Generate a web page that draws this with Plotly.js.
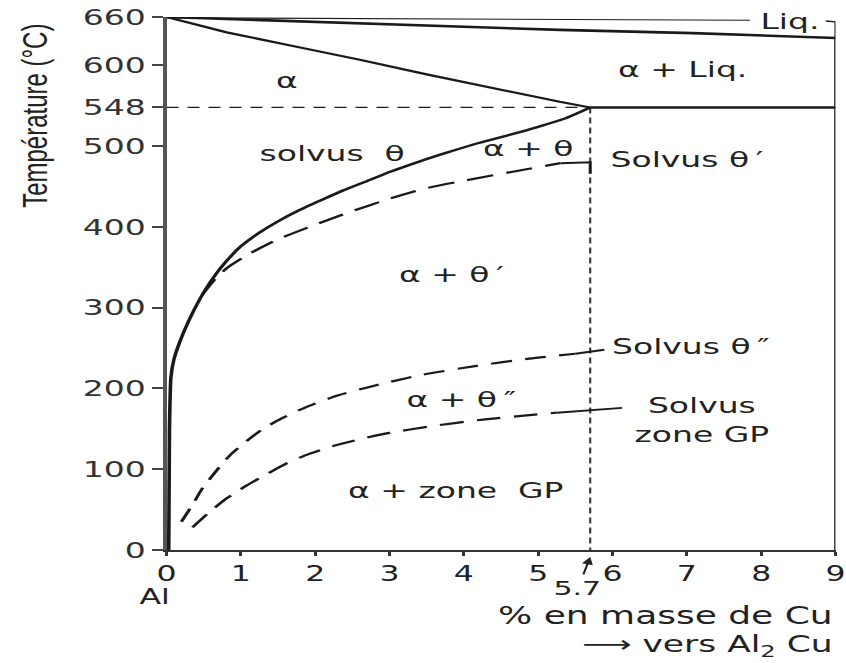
<!DOCTYPE html>
<html><head><meta charset="utf-8">
<script src="https://cdn.plot.ly/plotly-3.0.1.min.js"></script>
<style>
html,body{margin:0;padding:0;background:#fff;overflow:hidden;width:846px;height:663px}
#chart{width:564px;height:663px;transform:scaleX(1.5);transform-origin:0 0}
</style></head><body><div id="chart"></div>
<script>
// ---- axis ticks ----
const xTickVals = [0,1,2,3,4,5,6,7,8,9];
const xTickText = ['0','1','2','3','4','5','6','7','8','9'];
const yTickVals = [0,100,200,300,400,500,548,600,660];
const yTickText = ['0','100','200','300','400','500','548','600','660'];

// ---- phase boundaries (wt% Cu, °C) ----
const liquidusX = [0, 2.6, 5.29, 7.08, 9];
const liquidusT = [660, 652, 644, 640, 634];
const solidusX = [0, 0.81, 1.70, 2.60, 3.50, 4.39, 5.29, 5.7];
const solidusT = [660, 641, 624, 607, 589, 572, 555, 548];
const eutecticX = [5.7, 9];
const eutecticT = [548, 548];
const eutecticGuideX = [0, 5.7];
const eutecticGuideT = [548, 548];
const compoGuideX = [5.7, 5.7];
const compoGuideT = [548, 0];
const topLineX = [0, 7.85];
const topLineT = [659, 656];
const liqBracketX = [8.87, 9.0, 9.0];
const liqBracketT = [655, 654, 634];
const rightBorderX = [9, 9];
const rightBorderT = [0, 634];

const solvusThetaX = [0.03, 0.04, 0.06, 0.10, 0.18, 0.30, 0.45, 0.62, 0.80, 1.00, 1.25, 1.50, 1.79, 2.10, 2.37, 2.70, 3.00, 3.40, 3.77, 4.20, 4.65, 5.00, 5.35, 5.70];
const solvusThetaT = [0, 150, 214, 236, 258, 284, 311, 336, 357, 376, 393, 407, 421, 434, 445, 457, 468, 481, 492, 504, 515, 524, 534, 548];

const solvusThetaPX = [0.48, 0.65, 0.81, 1.12, 1.48, 1.92, 2.42, 3.00, 3.45, 4.04, 4.75, 5.30];
const solvusThetaPT = [316, 335, 349, 367, 384, 400, 417, 435, 447, 458, 470, 479];
const leaderThetaPX = [5.30, 5.70, 5.70];
const leaderThetaPT = [479, 480, 466];

const solvusThetaPPX = [0.20, 0.35, 0.48, 0.67, 0.85, 1.08, 1.30, 1.55, 1.88, 2.29, 2.69, 3.00, 3.44, 4.17, 4.88, 5.50];
const solvusThetaPPT = [35, 56, 76, 98, 117, 135, 150, 163, 177, 191, 201, 208, 217, 228, 237, 243];
const leaderThetaPPX = [5.50, 5.89];
const leaderThetaPPT = [243, 248];

const solvusGPX = [0.35, 0.58, 0.81, 1.08, 1.35, 1.61, 1.92, 2.29, 2.64, 3.00, 3.54, 4.21, 4.88, 5.25];
const solvusGPT = [28, 47, 64, 80, 94, 107, 119, 130, 138, 145, 153, 161, 167, 170];
const leaderGPX = [5.25, 6.13];
const leaderGPT = [170, 176];

// ---- labels ----
const labelText = ['α', 'α + Liq.', 'solvus\u00a0\u00a0θ', 'α + θ', 'α\u00a0+\u00a0θ\u2009′', 'α\u00a0+\u00a0θ\u2009″', 'Solvus<br>zone GP', 'α + zone\u00a0\u00a0GP', 'Liq.'];
const labelX =    [1.63, 6.94, 2.22, 4.86, 3.83, 3.96, 7.20, 3.90, 8.38];
const labelT =    [581, 595, 491, 497, 341, 186, 161, 74, 654];
const sideLabelText = ['Solvus θ\u2009′', 'Solvus θ\u2009″'];
const sideLabelX = [5.93, 5.96];
const sideLabelT = [484, 252];

const ink = '#1a1a1a';
function line(x, y, w, dash, color, shape) {
  return {x: x, y: y, type: 'scatter', mode: 'lines', hoverinfo: 'skip', showlegend: false,
          line: {color: color || ink, width: w, dash: dash || 'solid', shape: shape || 'linear', smoothing: 0.6}};
}

const traces = [
  line(rightBorderX, rightBorderT, 2, 'solid', '#444'),
  line(topLineX, topLineT, 1.2),
  line(liqBracketX, liqBracketT, 1.4),
  line(liquidusX, liquidusT, 2.6),
  line(solidusX, solidusT, 2.2),
  line(eutecticX, eutecticT, 2.4),
  line(eutecticGuideX, eutecticGuideT, 1.3, '8px,6px'),
  line(compoGuideX, compoGuideT, 1.4, '6px,4px', '#333'),
  line(solvusThetaX, solvusThetaT, 2.4, 'solid', ink, 'spline'),
  line(solvusThetaPX, solvusThetaPT, 2.2, '18px,9px', ink, 'spline'),
  line(leaderThetaPX, leaderThetaPT, 2),
  line(solvusThetaPPX, solvusThetaPPT, 2.2, '14px,9px', ink, 'spline'),
  line(leaderThetaPPX, leaderThetaPPT, 2),
  line(solvusGPX, solvusGPT, 2.2, '16px,9px', ink, 'spline'),
  line(leaderGPX, leaderGPT, 2)
];

const annFont = {family: 'DejaVu Sans', size: 22, color: '#222'};
const annotations = [];
for (let i = 0; i < labelText.length; i++) {
  annotations.push({x: labelX[i], y: labelT[i], xref: 'x', yref: 'y', text: labelText[i],
    showarrow: false, font: annFont, xanchor: 'center', yanchor: 'middle'});
}
for (let i = 0; i < sideLabelText.length; i++) {
  annotations.push({x: sideLabelX[i], y: sideLabelT[i], xref: 'x', yref: 'y', text: sideLabelText[i],
    showarrow: false, font: annFont, xanchor: 'left', yanchor: 'middle'});
}
annotations.push({x: -0.017, y: -0.088, xref: 'paper', yref: 'paper', text: 'Al', showarrow: false,
  xanchor: 'center', yanchor: 'middle', font: {family: 'DejaVu Sans', size: 21, color: '#222'}});
annotations.push({x: 5.7, y: -0.013, xref: 'x', yref: 'paper', text: '5.7', showarrow: true,
  ax: -8, ay: 31, arrowhead: 2, arrowsize: 1, arrowwidth: 1.5, arrowcolor: '#222',
  font: {family: 'DejaVu Sans', size: 20, color: '#222'}});
annotations.push({x: 1.0, y: -0.123, xref: 'paper', yref: 'paper', text: '% en masse de Cu', showarrow: false,
  xanchor: 'right', yanchor: 'middle', font: {family: 'DejaVu Sans', size: 24, color: '#222'}});
annotations.push({x: 1.0, y: -0.18, xref: 'paper', yref: 'paper', text: '⟶ vers Al<sub>2</sub> Cu', showarrow: false,
  xanchor: 'right', yanchor: 'middle', font: {family: 'DejaVu Sans', size: 23, color: '#222'}});
annotations.push({x: -0.198, y: 0.814, xref: 'paper', yref: 'paper', text: 'Température (°C)', showarrow: false,
  textangle: -90, xanchor: 'center', yanchor: 'middle', font: {family: 'Liberation Sans', size: 24, color: '#222'}});

const layout = {
  width: 564, height: 663,
  margin: {l: 111, r: 7, t: 17, b: 113},
  paper_bgcolor: '#fff', plot_bgcolor: '#fff',
  font: {family: 'DejaVu Sans', color: '#222'},
  showlegend: false,
  xaxis: {range: [0, 9], tickvals: xTickVals, ticktext: xTickText, showgrid: false, zeroline: false,
    showline: true, linewidth: 2, linecolor: '#333', ticks: 'outside', ticklen: 4, tickwidth: 2, tickcolor: '#333',
    tickfont: {family: 'DejaVu Sans', size: 21, color: '#222'}},
  yaxis: {range: [0, 660], tickvals: yTickVals, ticktext: yTickText, showgrid: false, zeroline: false,
    showline: true, linewidth: 2.5, linecolor: '#555', ticks: 'outside', ticklen: 7, tickwidth: 2, tickcolor: '#444',
    tickfont: {family: 'DejaVu Sans', size: 22, color: '#333'}},
  annotations: annotations
};

Plotly.newPlot('chart', traces, layout, {staticPlot: true, displayModeBar: false});
</script></body></html>
